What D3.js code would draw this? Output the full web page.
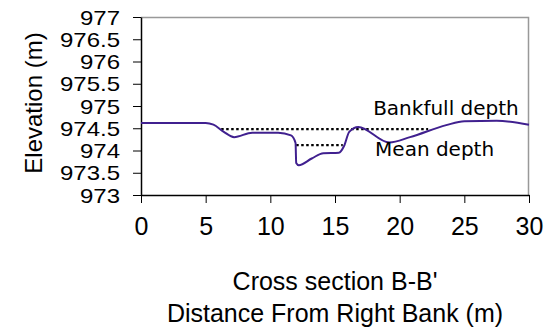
<!DOCTYPE html>
<html>
<head>
<meta charset="utf-8">
<script src="https://cdn.jsdelivr.net/npm/d3@7"></script>
<style>
  body { margin: 0; background: #fff; }
  svg text { font-family: "Liberation Sans", Arial, sans-serif; fill: #000; }
</style>
</head>
<body>
<svg id="chart" width="546" height="331"></svg>
<script>
// cross section profile
var distance = [0, 5, 5.6, 6.4, 7.2, 8.6, 10.6, 11.6, 11.95, 12.0, 12.2, 13.2, 14.1, 15.3, 15.7, 16.1, 16.8, 19.2, 20.8, 23.6, 25, 27.5, 30];
var elevation = [974.62, 974.62, 974.58, 974.42, 974.3, 974.4, 974.4, 974.34, 974.17, 973.72, 973.67, 973.82, 973.94, 973.95, 974.1, 974.42, 974.53, 974.18, 974.3, 974.57, 974.66, 974.67, 974.58];

var bankfull = {from: 6.2, to: 22.2, level: 974.48};
var meanDepth = {from: 12.0, to: 15.6, level: 974.12};

var xTicks = [0, 5, 10, 15, 20, 25, 30];
var yTicks = [973, 973.5, 974, 974.5, 975, 975.5, 976, 976.5, 977];

var svg = d3.select("#chart"),
  margin = {top: 17, right: 17, bottom: 136, left: 141},
  width = +svg.attr("width") - margin.left - margin.right,
  height = +svg.attr("height") - margin.top - margin.bottom;

var x = d3.scaleLinear().domain([0, 30]).range([0, width]),
  y = d3.scaleLinear().domain([973, 977]).range([height, 0]);

var g = svg.append("g")
  .attr("transform", "translate(" + margin.left + "," + margin.top + ")");

// grey top and right edges of plot area
g.append("path")
  .attr("d", "M0,0.5H" + (width - 0.5) + "V" + height)
  .attr("fill", "none")
  .attr("stroke", "#999")
  .attr("stroke-width", 1.5);

var xAxis = d3.axisBottom(x).tickValues(xTicks).tickSize(8).tickSizeOuter(0).tickPadding(14),
  yAxis = d3.axisLeft(y).tickValues(yTicks).tickSize(8).tickSizeOuter(0)
    .tickFormat(function(d) { return String(d); });

var gx = g.append("g")
  .attr("transform", "translate(0," + height + ")")
  .call(xAxis);
gx.selectAll("text").attr("font-size", 25);

var gy = g.append("g").call(yAxis);
// y labels look slightly stretched sideways in the original
gy.selectAll("text")
  .attr("font-size", 20)
  .attr("x", 0)
  .attr("dy", "0.36em")
  .attr("transform", "translate(-21,0) scale(1.2,1)");

[gx, gy].forEach(function(a) {
  a.select(".domain").attr("stroke", "#000").attr("stroke-width", 1.5);
  a.selectAll(".tick line").attr("stroke", "#000");
  a.attr("font-family", null);
});

// dotted reference levels
[bankfull, meanDepth].forEach(function(r) {
  g.append("line")
    .attr("x1", x(r.from)).attr("x2", x(r.to))
    .attr("y1", y(r.level)).attr("y2", y(r.level))
    .attr("stroke", "#000")
    .attr("stroke-width", 2.2)
    .attr("stroke-dasharray", "2.5,2.5");
});

var line = d3.line()
  .curve(d3.curveMonotoneX)
  .x(function(d, i) { return x(distance[i]); })
  .y(function(d) { return y(d); });

g.append("path")
  .datum(elevation)
  .attr("d", line)
  .attr("fill", "none")
  .attr("stroke", "#40208f")
  .attr("stroke-width", 2);

g.append("text")
  .attr("x", x(17.95)).attr("y", y(974.8))
  .attr("font-size", 20)
  .style("font-family", "'DejaVu Sans', sans-serif")
  .text("Bankfull depth");

g.append("text")
  .attr("x", x(18.1)).attr("y", y(973.88))
  .attr("font-size", 20)
  .style("font-family", "'DejaVu Sans', sans-serif")
  .text("Mean depth");

// axis titles
svg.append("text")
  .attr("transform", "translate(42," + (margin.top + height / 2 - 3) + ") rotate(-90)")
  .attr("text-anchor", "middle")
  .attr("font-size", 24)
  .text("Elevation (m)");

svg.append("text")
  .attr("x", 335).attr("y", 290)
  .attr("text-anchor", "middle")
  .attr("font-size", 25)
  .text("Cross section B-B'");

svg.append("text")
  .attr("x", 335).attr("y", 322)
  .attr("text-anchor", "middle")
  .attr("font-size", 25)
  .text("Distance From Right Bank (m)");
</script>
</body>
</html>
